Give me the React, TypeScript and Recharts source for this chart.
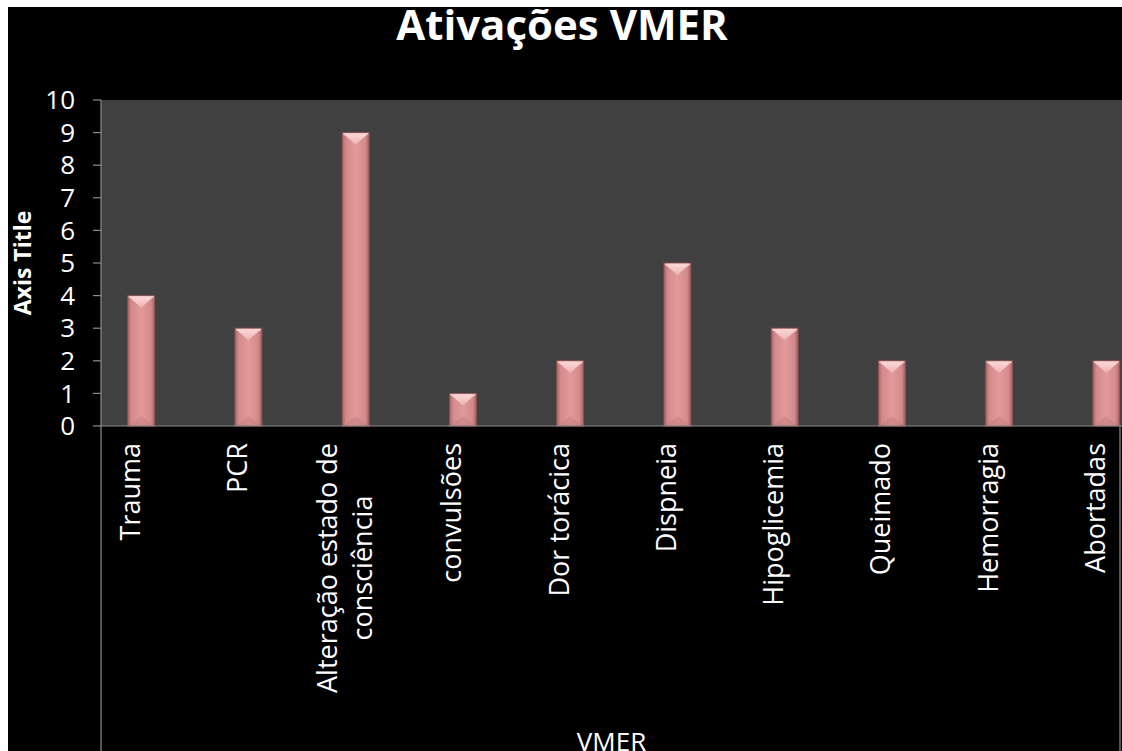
import { BarChart, Bar, XAxis, YAxis, CartesianGrid, Label, Customized } from 'recharts'

const categories = [
  'Trauma',
  'PCR',
  'Alteração estado de consciência',
  'convulsões',
  'Dor torácica',
  'Dispneia',
  'Hipoglicemia',
  'Queimado',
  'Hemorragia',
  'Abortadas',
]
const activations = [4, 3, 9, 1, 2, 5, 3, 2, 2, 2]
const yTicks = [0, 1, 2, 3, 4, 5, 6, 7, 8, 9, 10]

const data = categories.map((name, i) => ({ name, value: activations[i] }))

const FONT = '"Open Sans", "DejaVu Sans", sans-serif'
const AXIS_GREY = '#8c8c8c'
const W = 1114
const H = 744
const TOP = 93
const LEFT = 93
const PLOT_BOTTOM = 419
const TICK_SIZE = 27

let canvas: HTMLCanvasElement | null = null
function textWidth(text: string, size: number) {
  if (!canvas) canvas = document.createElement('canvas')
  const ctx = canvas.getContext('2d')
  if (!ctx) return text.length * size * 0.5
  ctx.font = `${size}px "Open Sans"`
  return ctx.measureText(text).width
}

// long category names wrap onto two lines, like "Alteração estado de / consciência"
function splitLabel(text: string, max = 20) {
  if (text.length <= max) return [text]
  const cut = text.lastIndexOf(' ', max)
  return [text.slice(0, cut), text.slice(cut + 1)]
}

function CategoryTick({ x, y, payload }: any) {
  const lines = splitLabel(String(payload.value))
  const cx = x - 11
  const top = y + 17
  if (lines.length === 1) {
    return (
      <text
        transform={`translate(${cx},${top}) rotate(-90)`}
        textAnchor="end"
        dy="0.35em"
        fill="#fff"
        fontSize={TICK_SIZE}
        fontFamily={FONT}
      >
        {lines[0]}
      </text>
    )
  }
  const longest = Math.max(...lines.map((l) => textWidth(l, TICK_SIZE)))
  const mid = top + longest / 2
  const gap = 35
  return (
    <g transform={`translate(${cx},${mid}) rotate(-90)`}>
      {lines.map((l, i) => (
        <text
          key={i}
          x={0}
          y={(i - (lines.length - 1) / 2) * gap}
          dy="0.35em"
          textAnchor="middle"
          fill="#fff"
          fontSize={TICK_SIZE}
          fontFamily={FONT}
        >
          {l}
        </text>
      ))}
    </g>
  )
}

function GlossyBar({ x, y, width, height }: any) {
  if (!height || height <= 0) return null
  const cap = Math.min(width * 0.45, height / 2)
  return (
    <g>
      <rect x={x} y={y} width={width} height={height} fill="url(#barBody)" stroke="#8f5252" strokeWidth={0.8} />
      <polygon
        points={`${x + 1},${y + 1} ${x + width - 1},${y + 1} ${x + width / 2},${y + cap}`}
        fill="url(#barCap)"
      />
      <rect x={x + 1} y={y + 0.5} width={width - 2} height={2} fill="#f6d2d2" opacity={0.7} />
      <polygon
        points={`${x + 2},${y + height - 1} ${x + width - 2},${y + height - 1} ${x + width / 2},${y + height - cap * 0.8}`}
        fill="#c27a7a"
        opacity={0.45}
      />
    </g>
  )
}

function Decor() {
  return (
    <g>
      <defs>
        <linearGradient id="barBody" x1="0" y1="0" x2="1" y2="0">
          <stop offset="0%" stopColor="#a86262" />
          <stop offset="14%" stopColor="#d48a8a" />
          <stop offset="50%" stopColor="#e29a9a" />
          <stop offset="86%" stopColor="#d48a8a" />
          <stop offset="100%" stopColor="#a35e5e" />
        </linearGradient>
        <linearGradient id="barCap" x1="0" y1="0" x2="0" y2="1">
          <stop offset="0%" stopColor="#fbdada" />
          <stop offset="100%" stopColor="#eeb0b0" />
        </linearGradient>
      </defs>
      <text
        x={554}
        y={33}
        textAnchor="middle"
        fill="#fff"
        fontSize={42}
        fontWeight={700}
        fontFamily={FONT}
      >
        Ativações VMER
      </text>
      <line x1={LEFT} y1={PLOT_BOTTOM} x2={LEFT} y2={H} stroke={AXIS_GREY} strokeWidth={1.2} />
      <line x1={1112} y1={PLOT_BOTTOM} x2={1112} y2={H} stroke={AXIS_GREY} strokeWidth={1.2} />
    </g>
  )
}

export default function App() {
  return (
    <div
      style={{
        position: 'fixed',
        left: 8,
        top: 7,
        width: W,
        height: H,
        background: '#000',
        overflow: 'hidden',
      }}
    >
      <BarChart width={W} height={H} data={data} margin={{ top: TOP, right: 0, bottom: 0, left: 0 }}>
        <Customized component={<Decor />} />
        <CartesianGrid fill="#404040" horizontal={false} vertical={false} stroke="none" />
        <XAxis
          dataKey="name"
          type="category"
          interval={0}
          height={H - PLOT_BOTTOM}
          padding={{ left: -13.3, right: -38.1 }}
          tickLine={false}
          tickSize={0}
          tickMargin={0}
          axisLine={{ stroke: AXIS_GREY, strokeWidth: 1.2 }}
          tick={<CategoryTick />}
        >
          <Label
            value="VMER"
            position="insideBottom"
            offset={0}
            fill="#fff"
            fontSize={26}
            fontFamily={FONT}
          />
        </XAxis>
        <YAxis
          type="number"
          domain={[0, 10]}
          ticks={yTicks}
          interval={0}
          width={LEFT}
          tickSize={8}
          tickMargin={18}
          tickLine={{ stroke: AXIS_GREY, strokeWidth: 1.2 }}
          axisLine={{ stroke: AXIS_GREY, strokeWidth: 1.2 }}
          tick={{ fill: '#fff', fontSize: 26, fontFamily: FONT }}
        >
          <Label
            value="Axis Title"
            angle={-90}
            position="insideLeft"
            offset={15}
            fill="#fff"
            fontSize={23}
            fontWeight={700}
            fontFamily={FONT}
            style={{ textAnchor: 'middle' }}
          />
        </YAxis>
        <Bar dataKey="value" barSize={27} shape={<GlossyBar />} isAnimationActive={false} />
      </BarChart>
    </div>
  )
}
